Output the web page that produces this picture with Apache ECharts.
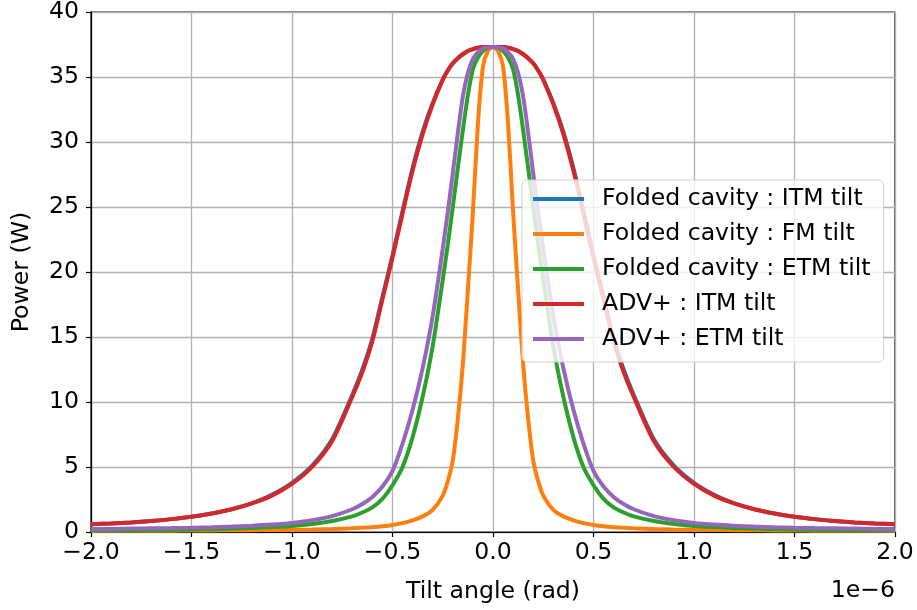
<!DOCTYPE html>
<html>
<head>
<meta charset="utf-8">
<script src="https://cdn.jsdelivr.net/npm/echarts@6/dist/echarts.min.js"></script>
<style>
  html, body { margin: 0; padding: 0; background: #fff; }
  #chart { width: 917px; height: 610px; }
</style>
</head>
<body>
<div id="chart"></div>
<script>
// tilt angle, in units of 1e-6 rad
const tilt = [-2.0, -1.9, -1.8, -1.7, -1.6, -1.5, -1.4, -1.3, -1.2, -1.1, -1.0, -0.9, -0.8, -0.7, -0.65, -0.6, -0.55, -0.5, -0.45, -0.4, -0.35, -0.3, -0.25, -0.225, -0.2, -0.175, -0.15, -0.125, -0.1, -0.075, -0.05, -0.025,
  0,
  0.025, 0.05, 0.075, 0.1, 0.125, 0.15, 0.175, 0.2, 0.225, 0.25, 0.3, 0.35, 0.4, 0.45, 0.5, 0.55, 0.6, 0.65, 0.7, 0.8, 0.9, 1.0, 1.1, 1.2, 1.3, 1.4, 1.5, 1.6, 1.7, 1.8, 1.9, 2.0]

// Power (W)
const foldedItm = [0.59, 0.66, 0.74, 0.85, 0.99, 1.17, 1.42, 1.75, 2.2, 2.86, 3.78, 5.1, 7.15, 10.55, 12.5, 14.9, 18.1, 21.3, 24.7, 28.0, 30.8, 33.0, 34.8, 35.5, 36.05, 36.45, 36.75, 37.0, 37.15, 37.25, 37.3, 37.3,
  37.3,
  37.3, 37.3, 37.25, 37.15, 37.0, 36.75, 36.45, 36.05, 35.5, 34.8, 33.0, 30.8, 28.0, 24.7, 21.3, 18.1, 14.9, 12.5, 10.55, 7.15, 5.1, 3.78, 2.86, 2.2, 1.75, 1.42, 1.17, 0.99, 0.85, 0.74, 0.66, 0.59]

const foldedFm = [0.085, 0.09, 0.095, 0.1, 0.105, 0.11, 0.12, 0.13, 0.14, 0.15, 0.17, 0.19, 0.23, 0.28, 0.32, 0.37, 0.44, 0.54, 0.68, 0.9, 1.2, 1.7, 2.8, 3.9, 5.5, 8.7, 12.9, 18.6, 24.6, 31.4, 35.8, 37.0,
  37.3,
  37.0, 35.8, 31.4, 24.6, 18.6, 12.9, 8.7, 5.5, 3.9, 2.8, 1.7, 1.2, 0.9, 0.68, 0.54, 0.44, 0.37, 0.32, 0.28, 0.23, 0.19, 0.17, 0.15, 0.14, 0.13, 0.12, 0.11, 0.105, 0.1, 0.095, 0.09, 0.085]

const foldedEtm = [0.12, 0.13, 0.14, 0.15, 0.17, 0.19, 0.22, 0.26, 0.31, 0.38, 0.47, 0.62, 0.85, 1.2, 1.5, 1.9, 2.55, 3.6, 5.0, 7.3, 10.4, 14.3, 19.4, 22.1, 25.0, 28.0, 30.9, 33.6, 35.6, 36.5, 37.0, 37.25,
  37.3,
  37.25, 37.0, 36.5, 35.6, 33.6, 30.9, 28.0, 25.0, 22.1, 19.4, 14.3, 10.4, 7.3, 5.0, 3.6, 2.55, 1.9, 1.5, 1.2, 0.85, 0.62, 0.47, 0.38, 0.31, 0.26, 0.22, 0.19, 0.17, 0.15, 0.14, 0.13, 0.12]

const advItm = [0.59, 0.66, 0.74, 0.85, 0.99, 1.17, 1.42, 1.75, 2.2, 2.8, 3.7, 5.0, 7.0, 10.4, 12.3, 14.7, 17.9, 21.1, 24.5, 27.8, 30.6, 32.9, 34.8, 35.5, 36.05, 36.45, 36.75, 37.0, 37.15, 37.25, 37.3, 37.3,
  37.3,
  37.3, 37.3, 37.25, 37.15, 37.0, 36.75, 36.45, 36.05, 35.5, 34.8, 32.9, 30.6, 27.8, 24.5, 21.1, 17.9, 14.7, 12.3, 10.4, 7.0, 5.0, 3.7, 2.8, 2.2, 1.75, 1.42, 1.17, 0.99, 0.85, 0.74, 0.66, 0.59]

const advEtm = [0.23, 0.24, 0.26, 0.28, 0.3, 0.33, 0.37, 0.42, 0.48, 0.57, 0.7, 0.9, 1.22, 1.75, 2.15, 2.7, 3.5, 4.7, 6.8, 9.4, 12.6, 16.6, 21.8, 24.6, 27.6, 30.7, 33.5, 35.3, 36.4, 36.9, 37.2, 37.28,
  37.3,
  37.28, 37.2, 36.9, 36.4, 35.3, 33.5, 30.7, 27.6, 24.6, 21.8, 16.6, 12.6, 9.4, 6.8, 4.7, 3.5, 2.7, 2.15, 1.75, 1.22, 0.9, 0.7, 0.57, 0.48, 0.42, 0.37, 0.33, 0.3, 0.28, 0.26, 0.24, 0.23]

const seriesNames = ['Folded cavity : ITM tilt', 'Folded cavity : FM tilt', 'Folded cavity : ETM tilt', 'ADV+ : ITM tilt', 'ADV+ : ETM tilt']
const seriesData = [foldedItm, foldedFm, foldedEtm, advItm, advEtm]
const colors = ['#1f77b4', '#ff7f0e', '#2ca02c', '#d62728', '#9467bd']

const font = 'DejaVu Sans'
const fs = 23.6
const lw = 4
const minus = (v) => (v < 0 ? '\u2212' : '') + Math.abs(v).toFixed(1)

const myChart = echarts.init(document.getElementById('chart'))

const option = {
  animation: false,
  color: colors,
  textStyle: { fontFamily: font },
  grid: {
    left: 91, right: 22, top: 10, bottom: 78,
    show: true, borderColor: '#000', borderWidth: 1.2, backgroundColor: 'transparent'
  },
  legend: {
    orient: 'vertical',
    left: 522, top: 180,
    padding: [7, 13, 11, 9],
    itemWidth: 51, itemHeight: 24, itemGap: 11,
    backgroundColor: 'rgba(255,255,255,0.8)',
    borderColor: '#d0d0d0', borderWidth: 1, borderRadius: 5,
    itemStyle: { color: 'transparent', borderColor: 'transparent', borderWidth: 0 },
    lineStyle: { width: lw },
    textStyle: { fontFamily: font, fontSize: fs, color: '#000', padding: [0, 0, 0, 13] },
    data: seriesNames
  },
  xAxis: {
    type: 'value',
    min: -2, max: 2, interval: 0.5,
    name: 'Tilt angle (rad)', nameLocation: 'middle', nameGap: 48,
    nameTextStyle: { fontFamily: font, fontSize: fs, color: '#000' },
    axisLine: { show: true, onZero: false, lineStyle: { color: '#000', width: 1.2 } },
    axisTick: { show: true, length: 5, lineStyle: { color: '#000', width: 1.2 } },
    axisLabel: { fontFamily: font, fontSize: fs, color: '#000', margin: 9, formatter: minus },
    splitLine: { show: true, lineStyle: { color: '#b0b0b0', width: 1.3 } }
  },
  yAxis: {
    type: 'value',
    min: 0, max: 40, interval: 5,
    name: 'Power (W)', nameLocation: 'middle', nameGap: 57,
    nameTextStyle: { fontFamily: font, fontSize: fs, color: '#000' },
    axisLine: { show: true, onZero: false, lineStyle: { color: '#000', width: 1.2 } },
    axisTick: { show: true, length: 5, lineStyle: { color: '#000', width: 1.2 } },
    axisLabel: { fontFamily: font, fontSize: fs, color: '#000', margin: 12 },
    splitLine: { show: true, lineStyle: { color: '#b0b0b0', width: 1.3 } }
  },
  graphic: [{
    type: 'text', right: 22, top: 579,
    style: { text: '1e\u22126', font: fs + 'px "DejaVu Sans"', fill: '#000' }
  }],
  series: seriesNames.map((name, i) => ({
    name: name,
    type: 'line',
    symbol: 'none',
    smooth: 0.25,
    lineStyle: { width: lw, color: colors[i] },
    data: tilt.map((x, k) => [x, seriesData[i][k]])
  }))
}

myChart.setOption(option)
</script>
</body>
</html>
